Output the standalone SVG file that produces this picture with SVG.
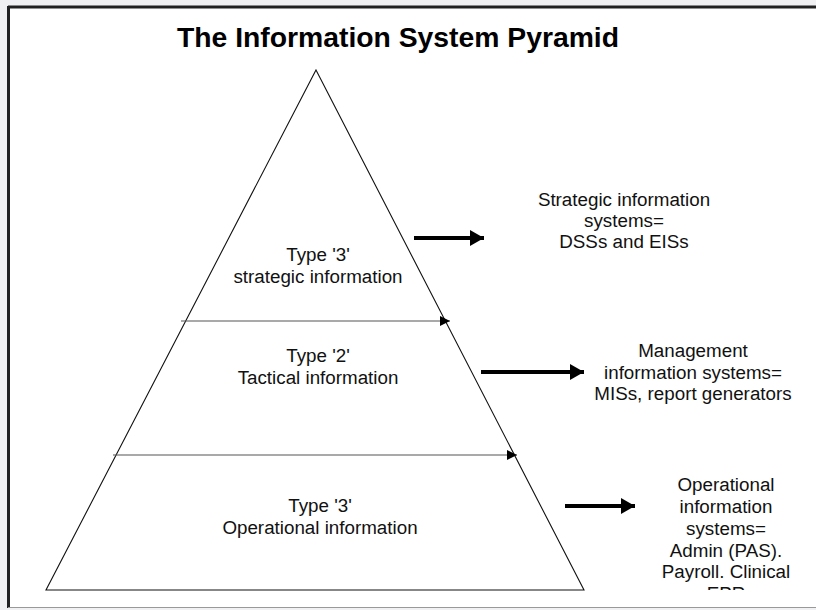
<svg xmlns="http://www.w3.org/2000/svg" width="816" height="610" viewBox="0 0 816 610">
  <style>
    .lbl { font-family: "Liberation Sans", Arial, Helvetica, sans-serif; font-size: 18.8px; fill: #111; text-anchor: middle; }
    .title { font-family: "Liberation Sans", Arial, Helvetica, sans-serif; font-size: 27px; font-weight: bold; fill: #000; text-anchor: middle; }
    .edge { fill: none; stroke: #111; stroke-width: 1.1; }
    .thin { stroke: #555; stroke-width: 1.2; fill: none; }
    .thick { stroke: #000; stroke-width: 3.8; fill: none; }
  </style>
  <defs>
    <marker id="small" markerUnits="userSpaceOnUse" markerWidth="12" markerHeight="10" refX="10" refY="5" orient="auto">
      <path d="M0,0 L10,5 L0,10 Z" fill="#000"/>
    </marker>
    <marker id="big" markerUnits="userSpaceOnUse" markerWidth="16" markerHeight="17" refX="14" refY="8" orient="auto">
      <path d="M0,0 L14,8 L0,16 Z" fill="#000"/>
    </marker>
    <clipPath id="clipBottom"><rect x="0" y="0" width="816" height="590"/></clipPath>
  </defs>

  <rect x="0" y="0" width="816" height="610" fill="#f1f1f4"/>
  <rect x="8" y="6" width="808" height="602" fill="#fff"/>
  <line x1="8" y1="7" x2="816" y2="7" stroke="#222" stroke-width="3"/>
  <line x1="8.5" y1="6" x2="8.5" y2="608" stroke="#222" stroke-width="3"/>
  <line x1="8" y1="607.5" x2="816" y2="607.5" stroke="#999" stroke-width="1"/>

  <text class="title" x="398" y="47" textLength="442" lengthAdjust="spacingAndGlyphs">The Information System Pyramid</text>

  <g id="pyramid">
    <path class="edge" d="M316,70 L584,590 L46,590 Z"/>
  </g>

  <g id="connectors">
    <line class="thin" x1="181" y1="321" x2="450" y2="321" marker-end="url(#small)"/>
    <line class="thin" x1="113" y1="455" x2="517" y2="455" marker-end="url(#small)"/>
    <line class="thick" x1="414" y1="238" x2="484" y2="238" marker-end="url(#big)"/>
    <line class="thick" x1="481" y1="372" x2="584" y2="372" marker-end="url(#big)"/>
    <line class="thick" x1="565" y1="506" x2="635" y2="506" marker-end="url(#big)"/>
  </g>

  <g id="level-strategic">
    <text class="lbl" x="318" y="261">Type '3'</text>
    <text class="lbl" x="318" y="283">strategic information</text>
  </g>
  <g id="level-tactical">
    <text class="lbl" x="318" y="362">Type '2'</text>
    <text class="lbl" x="318" y="384">Tactical information</text>
  </g>
  <g id="level-operational">
    <text class="lbl" x="320" y="512">Type '3'</text>
    <text class="lbl" x="320" y="534">Operational information</text>
  </g>

  <g id="sys-strategic">
    <text class="lbl" x="624" y="206">Strategic information</text>
    <text class="lbl" x="624" y="227">systems=</text>
    <text class="lbl" x="624" y="248">DSSs and EISs</text>
  </g>
  <g id="sys-management">
    <text class="lbl" x="693" y="357">Management</text>
    <text class="lbl" x="693" y="379">information systems=</text>
    <text class="lbl" x="693" y="400">MISs, report generators</text>
  </g>
  <g id="sys-operational" clip-path="url(#clipBottom)">
    <text class="lbl" x="726" y="491">Operational</text>
    <text class="lbl" x="726" y="513">information</text>
    <text class="lbl" x="726" y="535">systems=</text>
    <text class="lbl" x="726" y="557">Admin (PAS).</text>
    <text class="lbl" x="726" y="578">Payroll. Clinical</text>
    <text class="lbl" x="726" y="600">EPR</text>
  </g>
</svg>
